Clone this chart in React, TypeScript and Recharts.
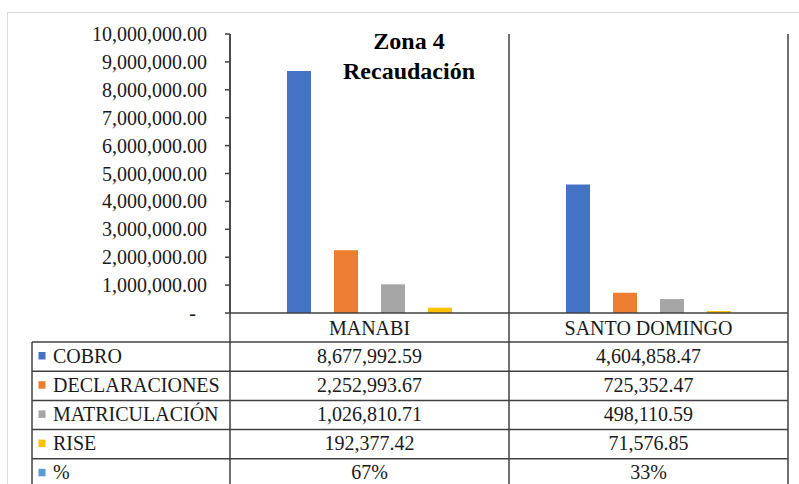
import React from 'react';
import { BarChart, Bar, XAxis, YAxis } from 'recharts';

const categories = ['MANABI', 'SANTO DOMINGO'];
const cobro = [8677992.59, 4604858.47];
const declaraciones = [2252993.67, 725352.47];
const matriculacion = [1026810.71, 498110.59];
const rise = [192377.42, 71576.85];
const porcentaje = [0.67, 0.33];
const yTicks = [0, 1000000, 2000000, 3000000, 4000000, 5000000, 6000000, 7000000, 8000000, 9000000, 10000000];
const seriesNames = ['COBRO', 'DECLARACIONES', 'MATRICULACIÓN', 'RISE', '%'];
const seriesKeys = ['cobro', 'declaraciones', 'matriculacion', 'rise', 'porcentaje'];
const seriesColors = ['#4472C4', '#ED7D31', '#A5A5A5', '#FFC000', '#5B9BD5'];
const titleLines = ['Zona 4', 'Recaudación'];

const data = categories.map((name, i) => ({
  name,
  cobro: cobro[i],
  declaraciones: declaraciones[i],
  matriculacion: matriculacion[i],
  rise: rise[i],
  porcentaje: porcentaje[i],
}));

const W = 799;
const H = 484;
const PLOT_LEFT = 230;
const PLOT_RIGHT = 788;
const PLOT_TOP = 34;
const PLOT_BOTTOM = 313;
const Y_AXIS_W = 100;
const X_AXIS_H = 30;
const ROW_TOP = 342;
const ROW_H = 29.2;
const TABLE_LEFT = 32;
const FONT = "'Liberation Serif'";
const TEXT = '#1a1a1a';
const LINE = '#404040';
const txtStyle: React.CSSProperties = { fontFamily: FONT, fontSize: 20 };

const fmtNum = (v: number) =>
  v.toLocaleString('en-US', { minimumFractionDigits: 2, maximumFractionDigits: 2 });
const fmtCell = (key: string, v: number) =>
  key === 'porcentaje' ? `${Math.round(v * 100)}%` : fmtNum(v);

const YTick = (props: any) => {
  const { x, y, payload } = props;
  const v = payload.value as number;
  return (
    <text
      x={v === 0 ? x - 11 : x}
      y={y}
      dy="0.35em"
      textAnchor="end"
      style={txtStyle}
      fill={TEXT}
    >
      {v === 0 ? '-' : fmtNum(v)}
    </text>
  );
};

const XTick = (props: any) => {
  const { x, y, payload, index } = props;
  const row = data[index] as any;
  return (
    <g>
      <text x={x} y={y + 22} textAnchor="middle" style={txtStyle} fill={TEXT}>
        {payload.value}
      </text>
      {seriesKeys.map((k, i) => (
        <text
          key={k}
          x={x}
          y={ROW_TOP + i * ROW_H + 20.5}
          textAnchor="middle"
          style={txtStyle}
          fill={TEXT}
        >
          {row ? fmtCell(k, row[k]) : ''}
        </text>
      ))}
    </g>
  );
};

export default function App() {
  const bandW = (PLOT_RIGHT - PLOT_LEFT) / categories.length;
  const rowLines = seriesNames.map((_, i) => ROW_TOP + i * ROW_H);
  return (
    <div style={{ position: 'absolute', left: 0, top: 0, width: W, height: H, background: '#fff' }}>
      <BarChart
        width={W}
        height={H}
        data={data}
        margin={{
          top: PLOT_TOP,
          right: W - PLOT_RIGHT,
          bottom: H - PLOT_BOTTOM - X_AXIS_H,
          left: PLOT_LEFT - Y_AXIS_W,
        }}
        barSize={24}
        barGap={23}
      >
        <XAxis
          dataKey="name"
          height={X_AXIS_H}
          tickLine={false}
          tickSize={0}
          tickMargin={0}
          axisLine={{ stroke: LINE, strokeWidth: 1.5 }}
          tick={<XTick />}
          interval={0}
        />
        <YAxis
          width={Y_AXIS_W}
          domain={[0, 10000000]}
          ticks={yTicks}
          allowDataOverflow
          tickSize={5}
          tickMargin={18}
          tickLine={{ stroke: LINE, strokeWidth: 1.5 }}
          axisLine={{ stroke: LINE, strokeWidth: 1.5 }}
          tick={<YTick />}
        />
        {seriesKeys.slice(0, 4).map((k, i) => (
          <Bar key={k} dataKey={k} name={seriesNames[i]} fill={seriesColors[i]} isAnimationActive={false} />
        ))}
      </BarChart>
      <svg
        width={W}
        height={H}
        style={{ position: 'absolute', left: 0, top: 0, pointerEvents: 'none' }}
      >
        <line x1={7.5} y1={12} x2={7.5} y2={H} stroke="#d9d9d9" strokeWidth={1} />
        <line x1={7} y1={12.5} x2={W} y2={12.5} stroke="#d9d9d9" strokeWidth={1} />
        {titleLines.map((t, i) => (
          <text
            key={t}
            x={409}
            y={49 + i * 30}
            textAnchor="middle"
            style={{ fontFamily: FONT, fontSize: 24, fontWeight: 'bold' }}
            fill="#000"
          >
            {t}
          </text>
        ))}
        {[PLOT_LEFT, PLOT_LEFT + bandW, PLOT_RIGHT].map((x, i) => (
          <line key={i} x1={x} y1={PLOT_TOP} x2={x} y2={H} stroke={LINE} strokeWidth={1.5} />
        ))}
        <line x1={TABLE_LEFT} y1={ROW_TOP} x2={TABLE_LEFT} y2={H} stroke={LINE} strokeWidth={1.5} />
        {rowLines.map((y, i) => (
          <line key={i} x1={TABLE_LEFT} y1={y} x2={PLOT_RIGHT} y2={y} stroke={LINE} strokeWidth={1.5} />
        ))}
        {seriesNames.map((n, i) => (
          <g key={n}>
            <rect x={38.5} y={ROW_TOP + i * ROW_H + 10} width={7} height={7.5} fill={seriesColors[i]} />
            <text x={53} y={ROW_TOP + i * ROW_H + 20.5} style={txtStyle} fill={TEXT}>
              {n}
            </text>
          </g>
        ))}
      </svg>
    </div>
  );
}
